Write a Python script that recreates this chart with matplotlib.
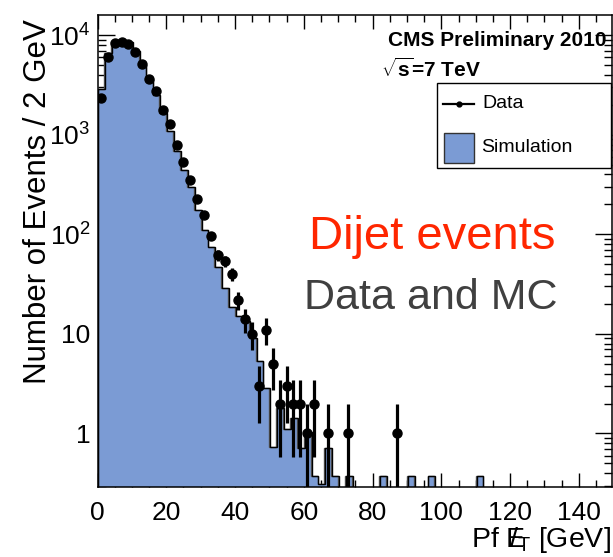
import numpy as np
import matplotlib
matplotlib.use('Agg')
import matplotlib.pyplot as plt
from matplotlib.patches import Rectangle
from matplotlib.lines import Line2D
from matplotlib.ticker import FixedLocator, FixedFormatter, LogLocator, MultipleLocator, NullFormatter

plt.rcParams['font.family'] = ['Liberation Sans', 'DejaVu Sans']
plt.rcParams['mathtext.fontset'] = 'custom'
plt.rcParams['mathtext.rm'] = 'Liberation Sans'
plt.rcParams['mathtext.it'] = 'Liberation Sans:italic'
plt.rcParams['mathtext.bf'] = 'Liberation Sans:bold'

# ---------------- data ----------------
bin_edges = np.arange(0, 152, 2)  # 2 GeV bins, 0..150 GeV

mc_values = [
    2870, 6710, 8810, 9010, 8470, 7000, 5000, 3650, 2520, 1650,
    1097, 695, 448, 298, 176, 112, 74, 47, 28.8, 18.5,
    15.2, 13.4, 9.2, 5.4, 2.85, 0.73, 1.79, 1.10, 1.42, 0.71,
    1.03, 0.37, 0.31, 0.71, 0.37, 0, 0.37, 0, 0, 0,
    0, 0.37, 0, 0, 0, 0.37, 0, 0, 0.37, 0,
    0, 0, 0, 0, 0, 0.37, 0, 0, 0, 0,
    0, 0, 0, 0, 0, 0, 0, 0, 0, 0,
    0, 0, 0, 0, 0,
]

data_met = [1, 3, 5, 7, 9, 11, 13, 15, 17, 19, 21, 23, 25, 27, 29, 31, 33, 35,
            37, 39, 41, 43, 45, 47, 49, 51, 53, 55, 57, 59, 61, 63, 67, 73, 87]
data_counts = [2340, 6120, 8350, 8610, 8220, 6780, 5170, 3680, 2750, 1795,
               1281, 799, 532, 349, 225, 157, 97, 62, 54, 40, 22, 14, 10,
               3, 11, 5, 2, 3, 2, 2, 1, 2, 1, 1, 1]

ytick_values = [1, 10, 100, 1000, 10000]
ytick_labels = ['1', '10', r'$10^{2}$', r'$10^{3}$', r'$10^{4}$']
xtick_values = [0, 20, 40, 60, 80, 100, 120, 140]

# ---------------- figure ----------------
W, H = 613, 557
fig = plt.figure(figsize=(W / 100, H / 100), dpi=100)
fig.patch.set_facecolor('white')

ax_l, ax_r, ax_t, ax_b = 97.5, 611.5, 15, 487
ax = fig.add_axes([ax_l / W, 1 - ax_b / H, (ax_r - ax_l) / W, (ax_b - ax_t) / H])

fill_col = '#7b9bd4'
ymin, ymax = 0.29, 1.6e4
floor = 1e-3
edges = np.asarray(bin_edges, dtype=float)
mc = np.asarray(mc_values, dtype=float)
mc_plot = np.where(mc > 0, mc, floor)

ax.stairs(mc_plot, edges, baseline=floor, fill=True, facecolor=fill_col,
          edgecolor='none', zorder=2)
ax.stairs(mc_plot, edges, baseline=floor, fill=False, edgecolor='#555555',
          linewidth=1.0, zorder=3)
ax.stairs(mc_plot, edges + 0.25, baseline=floor, fill=False, edgecolor='black',
          linewidth=1.0, zorder=3)

x = np.asarray(data_met, dtype=float)
n = np.asarray(data_counts, dtype=float)
err = np.sqrt(n)
lo = np.minimum(err, n * 0.999)
ax.errorbar(x, n, yerr=[lo, err], fmt='o', color='black', ms=6.5,
            elinewidth=2.3, capsize=0, zorder=5)

ax.set_yscale('log')
ax.set_xlim(0, 149.5)
ax.set_ylim(ymin, ymax)

ax.xaxis.set_major_locator(FixedLocator(xtick_values))
ax.xaxis.set_minor_locator(MultipleLocator(5))
ax.yaxis.set_major_locator(FixedLocator(ytick_values))
ax.yaxis.set_major_formatter(FixedFormatter(ytick_labels))
ax.yaxis.set_minor_locator(LogLocator(base=10, subs=np.arange(2, 10)))
ax.yaxis.set_minor_formatter(NullFormatter())

ax.tick_params(which='both', direction='in', top=True, right=True, width=1.0,
               labelsize=19, zorder=6)
ax.xaxis.set_tick_params(which='major', length=10, pad=10)
ax.xaxis.set_tick_params(which='minor', length=5)
ax.yaxis.set_tick_params(which='major', length=12, pad=5)
ax.yaxis.set_tick_params(which='minor', length=6)
for s in ax.spines.values():
    s.set_linewidth(1.1)
    s.set_zorder(7)

# ---------------- overlay (pixel coordinates) ----------------
ov = fig.add_axes([0, 0, 1, 1], facecolor='none')
ov.set_xlim(0, W)
ov.set_ylim(H, 0)
ov.axis('off')

ov.text(38, 19, 'Number of Events / 2 GeV', rotation=90, ha='center', va='top',
        fontsize=22.5)
ov.text(611, 555, r'Pf $\mathrm{E}\!\!\!\!/_{\mathrm{T}}$ [GeV]', ha='right',
        va='bottom', fontsize=20.5)

ov.text(606, 41, 'CMS Preliminary 2010', ha='right', va='center',
        fontsize=15, fontweight='bold')
ov.text(381, 69, r'$\mathbf{\sqrt{s}}$=7 TeV', ha='left', va='center',
        fontsize=15, fontweight='bold')

# legend
ov.add_patch(Rectangle((437, 83), 174, 85, facecolor='white', edgecolor='black',
                       linewidth=1.0, zorder=8))
ov.add_line(Line2D([443, 474], [104, 104], color='black', lw=1.6, zorder=9))
ov.add_line(Line2D([458.5], [104], marker='o', ms=3.5, color='black', zorder=9))
ov.text(482, 103, 'Data', ha='left', va='center', fontsize=14, zorder=9)
ov.add_patch(Rectangle((444, 133), 30, 30, facecolor=fill_col, edgecolor='#333333',
                       linewidth=1.0, zorder=9))
ov.text(481, 148, 'Simulation', ha='left', va='center', fontsize=14, zorder=9)

ov.text(432, 237, 'Dijet events', ha='center', va='center', fontsize=34,
        color='#ff2600')
ov.text(431, 298, 'Data and MC', ha='center', va='center', fontsize=31,
        color='#404040')

fig.savefig('out.png', dpi=100, facecolor='white')
